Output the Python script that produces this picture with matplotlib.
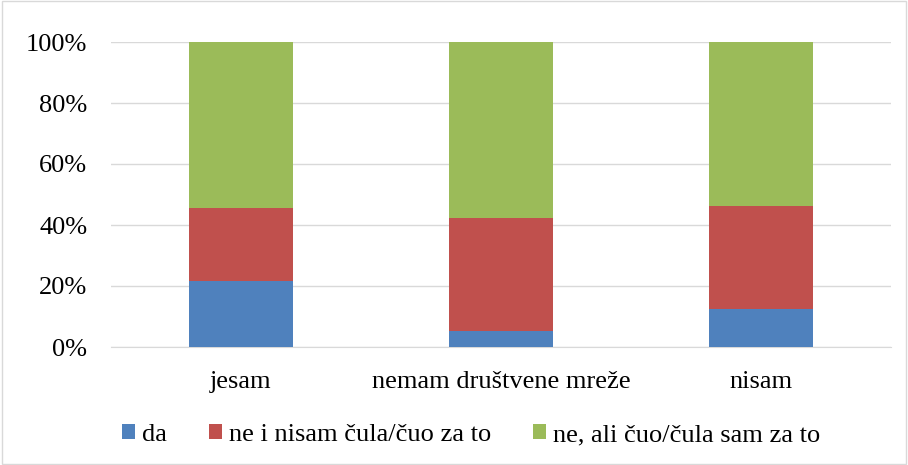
import matplotlib.pyplot as plt
import numpy as np
from matplotlib.ticker import PercentFormatter
from matplotlib.patches import Rectangle

plt.rcParams['font.family'] = ['Liberation Serif', 'DejaVu Serif']

categories = ['jesam', 'nemam društvene mreže', 'nisam']
series_names = ['da', 'ne i nisam čula/čuo za to', 'ne, ali čuo/čula sam za to']
da = [21.6, 5.2, 12.5]
ne_nisam = [24.0, 37.1, 33.8]
ne_ali = [54.4, 57.7, 53.7]
colors = ['#4f81bd', '#c0504d', '#9bbb59']

fig = plt.figure(figsize=(9.08, 4.65), dpi=100)
ax = fig.add_axes([111 / 908, 1 - 347 / 465, 780 / 908, 305 / 465])

x = np.arange(len(categories))
bottom = np.zeros(len(categories))
for vals, name, c in zip([da, ne_nisam, ne_ali], series_names, colors):
    ax.bar(x, vals, 0.4, bottom=bottom, color=c, label=name, zorder=3)
    bottom += np.array(vals)

ax.set_xlim(-0.5, 2.5)
ax.set_ylim(0, 100)
ax.set_yticks(np.arange(0, 101, 20))
ax.yaxis.set_major_formatter(PercentFormatter(decimals=0))
ax.set_xticks(x)
ax.set_xticklabels(categories)
ax.tick_params(length=0, labelsize=19, colors='black')
ax.tick_params(axis='x', pad=17)
ax.tick_params(axis='y', pad=17)
ax.grid(axis='y', color='#d9d9d9', linewidth=1, zorder=0)
for s in ['top', 'right', 'left']:
    ax.spines[s].set_visible(False)
ax.spines['bottom'].set_color('#d9d9d9')

fig.legend(loc='center', bbox_to_anchor=(471 / 908, 1 - 435 / 465), ncol=3, frameon=False,
           fontsize=19, handlelength=0.5, handleheight=0.5, handletextpad=0.25,
           columnspacing=1.6)

fig.patches.append(Rectangle((0.002, 0.003), 0.996, 0.994, transform=fig.transFigure,
                             fill=False, edgecolor='#d9d9d9', linewidth=1))

fig.savefig('out.png', dpi=100)
